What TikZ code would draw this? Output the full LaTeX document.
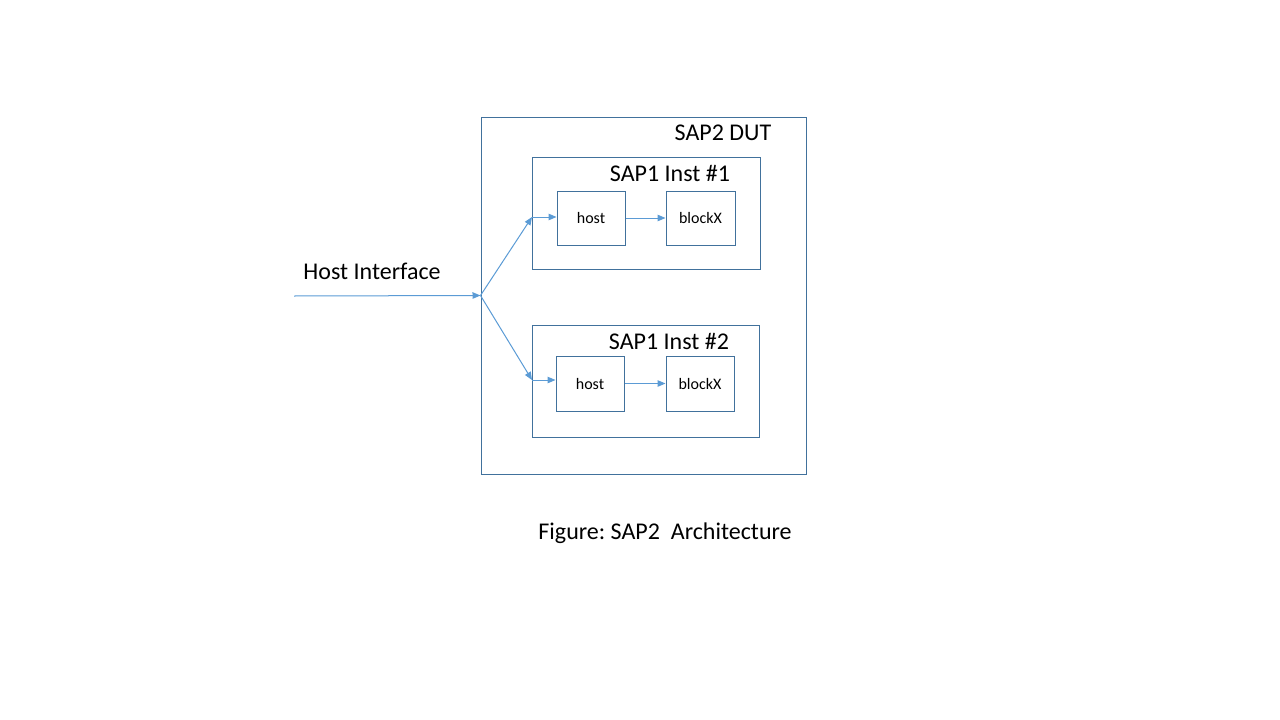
\documentclass[tikz,border=0pt]{standalone}
\usepackage{fontspec}
\setmainfont{Carlito}
\usetikzlibrary{arrows.meta,positioning}
\definecolor{boxline}{HTML}{41719C}
\definecolor{wire}{HTML}{5B9BD5}
\frenchspacing
\begin{document}
\begin{tikzpicture}[x=1pt,y=-1pt,
  box/.style={draw=boxline,line width=1pt,inner sep=0pt},
  big/.style={font=\fontsize{24}{28}\selectfont},
  small/.style={font=\fontsize{16}{19}\selectfont},
  wirearrow/.style={draw=wire,line width=1pt,-{Triangle[length=8pt,width=6.5pt]}}]
  \useasboundingbox (0,0) rectangle (1280,720);
  % outer and instance boxes
  \node[box,minimum width=325pt,minimum height=357pt] (dut) at (643.5,295.5) {};
  \node[box,minimum width=228pt,minimum height=112pt] (inst1) at (646,213) {};
  \node[box,minimum width=227pt,minimum height=112pt] (inst2) at (645.5,381) {};
  \node[box,small,minimum width=68pt,minimum height=54pt] (host1) at (591,218) {host};
  \node[box,small,minimum width=69pt,minimum height=54pt] (blk1) at (700.5,218) {blockX};
  \node[box,small,minimum width=68pt,minimum height=55pt] (host2) at (590,383.5) {host};
  \node[box,small,minimum width=68pt,minimum height=55pt] (blk2) at (700,383.5) {blockX};
  % labels
  \node[big] (dutlbl) at (723,133) {SAP2 DUT};
  \node[big] (inst1lbl) at (670,173) {SAP1 Inst \#1};
  \node[big] (inst2lbl) at (669,341) {SAP1 Inst \#2};
  \node[big] (hilbl) at (372,271) {Host Interface};
  \node[big] (caption) at (665,533) {Figure: SAP2~~Architecture};
  % connectors
  \coordinate (hi) at (294,296);
  \coordinate (e1) at (532,217);
  \coordinate (e2) at (532,380);
  \draw[wirearrow] (hi) -- (dut.west);
  \draw[wirearrow] (dut.west) -- (e1);
  \draw[wirearrow] (dut.west) -- (e2);
  \draw[wirearrow] (e1) -- (host1.west |- e1);
  \draw[wirearrow] (e2) -- (host2.west |- e2);
  \draw[wirearrow] (host1) -- (blk1);
  \draw[wirearrow] (host2) -- (blk2);
\end{tikzpicture}
\end{document}
